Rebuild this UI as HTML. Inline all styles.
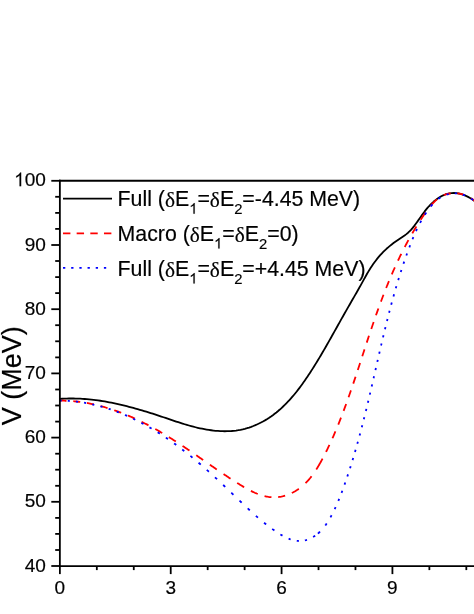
<!DOCTYPE html>
<html><head><meta charset="utf-8"><title>chart</title>
<style>
html,body{margin:0;padding:0;background:#fff;}
body{width:474px;height:614px;overflow:hidden;font-family:"Liberation Sans",sans-serif;}
svg{display:block;}
text{font-family:"Liberation Sans",sans-serif;fill:#000;stroke:#000;stroke-width:0.18px;}
.txt{filter:grayscale(1);}
.tk text{font-size:19px;}
.lg{font-size:21.3px;}
.sy{font-family:"Liberation Serif",serif;}
.sub{font-size:14.8px;}
.hid{fill:none;stroke:none;}
.ax line{stroke:#000;stroke-width:1.8;}
</style></head><body>
<svg width="474" height="614" viewBox="0 0 474 614">
<rect width="474" height="614" fill="#fff"/>
<g fill="none" stroke-width="1.8" stroke-linejoin="round">
<path d="M59.86 398.87L62.13 398.73L64.40 398.62L66.66 398.54L68.92 398.50L71.18 398.48L73.43 398.49L75.69 398.54L77.94 398.61L80.19 398.71L82.43 398.83L84.68 398.99L86.92 399.17L89.16 399.37L91.39 399.60L93.63 399.86L95.86 400.14L98.09 400.44L100.31 400.76L102.53 401.11L104.75 401.48L106.97 401.87L109.18 402.27L111.39 402.70L113.60 403.15L115.81 403.62L118.01 404.10L120.20 404.60L122.40 405.11L124.59 405.65L126.78 406.19L128.97 406.76L131.15 407.33L133.33 407.92L135.50 408.52L137.67 409.14L139.84 409.77L142.01 410.40L144.17 411.05L146.32 411.71L148.48 412.37L150.63 413.05L152.77 413.73L154.92 414.42L157.06 415.12L159.19 415.82L161.32 416.53L163.45 417.24L165.57 417.96L167.69 418.68L169.81 419.40L171.93 420.11L174.05 420.82L176.17 421.53L178.30 422.22L180.43 422.91L182.56 423.58L184.70 424.24L186.84 424.89L188.99 425.51L191.16 426.11L193.33 426.69L195.51 427.25L197.71 427.77L199.91 428.27L202.13 428.74L204.37 429.18L206.62 429.58L208.87 429.94L211.13 430.26L213.40 430.54L215.68 430.78L217.95 430.96L220.23 431.11L222.51 431.20L224.78 431.23L227.05 431.21L229.31 431.14L231.57 431.00L233.81 430.80L236.05 430.54L238.27 430.21L240.48 429.82L242.67 429.35L244.84 428.82L246.99 428.22L249.13 427.55L251.24 426.82L253.33 426.03L255.40 425.18L257.45 424.27L259.47 423.31L261.47 422.29L263.44 421.22L265.38 420.11L267.29 418.94L269.18 417.72L271.03 416.46L272.85 415.16L274.64 413.81L276.40 412.43L278.13 411.01L279.83 409.55L281.49 408.05L283.13 406.52L284.75 404.96L286.33 403.36L287.89 401.74L289.43 400.09L290.94 398.41L292.42 396.70L293.88 394.98L295.32 393.23L296.74 391.45L298.14 389.66L299.52 387.86L300.88 386.03L302.22 384.19L303.54 382.34L304.85 380.47L306.14 378.60L307.41 376.71L308.67 374.82L309.92 372.92L311.15 371.02L312.37 369.11L313.58 367.20L314.78 365.29L315.97 363.37L317.14 361.45L318.31 359.53L319.47 357.60L320.62 355.67L321.76 353.74L322.90 351.81L324.03 349.87L325.15 347.93L326.26 345.99L327.38 344.05L328.48 342.10L329.59 340.16L330.69 338.21L331.78 336.26L332.88 334.31L333.97 332.36L335.07 330.40L336.16 328.45L337.25 326.49L338.34 324.53L339.44 322.58L340.53 320.62L341.63 318.66L342.74 316.70L343.84 314.74L344.95 312.79L346.06 310.83L347.18 308.87L348.31 306.91L349.43 304.95L350.56 302.99L351.69 301.03L352.82 299.07L353.95 297.11L355.08 295.15L356.20 293.19L357.32 291.23L358.44 289.27L359.55 287.30L360.65 285.34L361.75 283.37L362.84 281.40L363.92 279.43L365.01 277.47L366.10 275.51L367.21 273.55L368.34 271.62L369.50 269.69L370.71 267.79L371.94 265.91L373.22 264.05L374.53 262.22L375.89 260.42L377.28 258.64L378.71 256.91L380.19 255.20L381.70 253.54L383.26 251.91L384.86 250.33L386.51 248.79L388.20 247.31L389.93 245.86L391.69 244.46L393.49 243.09L395.31 241.76L397.15 240.46L399.00 239.18L400.87 237.92L402.74 236.68L404.58 235.42L406.37 234.10L408.09 232.70L409.71 231.19L411.23 229.56L412.68 227.85L414.08 226.09L415.44 224.30L416.77 222.47L418.08 220.62L419.38 218.76L420.68 216.90L421.98 215.06L423.31 213.23L424.66 211.43L426.05 209.67L427.47 207.94L428.95 206.26L430.48 204.63L432.07 203.06L433.74 201.55L435.48 200.10L437.31 198.74L439.21 197.48L441.17 196.33L443.19 195.32L445.27 194.47L447.39 193.79L449.54 193.31L451.73 193.04L453.94 192.98L456.16 193.12L458.38 193.45L460.59 193.95L462.77 194.61L464.91 195.42L467.01 196.36L469.05 197.42L471.02 198.59L472.90 199.86L474.70 201.20L476.39 202.61L477.90 204.02" stroke="#000"/>
<path d="M59.99 400.71L61.04 400.70L62.09 400.70L63.14 400.71L64.18 400.72L65.23 400.75L66.28 400.78L66.49 400.78M73.30 401.20L74.35 401.29L75.39 401.39L76.44 401.50L77.48 401.62L78.53 401.74L79.57 401.87L80.20 401.95M86.96 403.01L88.00 403.20L89.04 403.40L90.08 403.60L91.11 403.81L92.15 404.03L93.18 404.25L93.91 404.41M100.60 406.05L101.63 406.33L102.65 406.61L103.68 406.90L104.70 407.19L105.72 407.49L106.74 407.80L107.55 408.05M114.24 410.23L115.25 410.58L116.26 410.94L117.26 411.30L118.27 411.67L119.27 412.04L120.27 412.42L121.17 412.76M127.91 415.49L128.89 415.91L129.88 416.33L130.86 416.76L131.83 417.19L132.81 417.62L133.79 418.06L134.76 418.50L134.85 418.55M141.60 421.77L142.55 422.24L143.50 422.72L144.45 423.20L145.40 423.68L146.35 424.17L147.29 424.66L148.23 425.16L148.51 425.30M155.29 429.01L156.21 429.53L157.12 430.05L158.03 430.57L158.95 431.10L159.86 431.63L160.76 432.16L161.67 432.70L162.21 433.02M168.93 437.11L169.81 437.67L170.70 438.22L171.59 438.78L172.47 439.34L173.35 439.91L174.23 440.47L175.11 441.04L175.82 441.49M182.55 445.92L183.42 446.50L184.29 447.08L185.16 447.67L186.02 448.25L186.89 448.84L187.76 449.43L188.62 450.02L189.49 450.61M196.24 455.24L197.10 455.84L197.97 456.44L198.83 457.04L199.70 457.64L200.56 458.24L201.43 458.84L202.29 459.44L203.16 460.04M209.85 464.68L210.72 465.28L211.60 465.89L212.47 466.49L213.35 467.09L214.22 467.70L215.10 468.30L215.98 468.90L216.77 469.44M223.59 474.07L224.48 474.67L225.37 475.26L226.27 475.86L227.17 476.46L228.07 477.05L228.97 477.64L229.87 478.24L230.51 478.65M237.18 482.95L238.10 483.53L239.03 484.11L239.96 484.69L240.89 485.26L241.82 485.82L242.76 486.39L243.70 486.94L244.17 487.22M250.91 490.89L251.87 491.36L252.83 491.82L253.79 492.27L254.76 492.71L255.73 493.12L256.70 493.53L257.67 493.91L257.77 493.95M264.55 496.10L265.55 496.33L266.54 496.54L267.54 496.73L268.54 496.89L269.54 497.02L270.55 497.14L271.45 497.21M278.16 497.10L279.18 496.96L280.21 496.80L281.24 496.61L282.26 496.39L283.29 496.14L284.31 495.86L285.13 495.62M291.83 492.97L292.79 492.49L293.75 491.98L294.70 491.46L295.63 490.91L296.55 490.35L297.46 489.77L298.35 489.17L298.79 488.86M305.51 483.20L306.25 482.46L306.98 481.70L307.70 480.93L308.40 480.14L309.09 479.35L309.77 478.54L310.44 477.73L311.10 476.90L311.55 476.32M316.28 469.53L316.84 468.63L317.40 467.72L317.96 466.81L318.50 465.90L319.04 464.97L319.57 464.05L320.10 463.12L320.62 462.19L321.14 461.26L321.65 460.32L322.16 459.38L322.56 458.63M326.02 451.93L326.49 450.98L326.96 450.03L327.43 449.08L327.89 448.13L328.35 447.18L328.80 446.22L329.25 445.27L329.39 444.98M332.46 438.26L332.89 437.29L333.32 436.33L333.74 435.36L334.16 434.39L334.58 433.42L334.99 432.45L335.40 431.48L335.45 431.39M338.27 424.56L338.67 423.59L339.06 422.61L339.46 421.63L339.85 420.65L340.23 419.66L340.62 418.68L341.00 417.70M343.61 410.89L343.98 409.90L344.35 408.91L344.71 407.92L345.08 406.93L345.45 405.93L345.81 404.94L346.13 404.05M348.56 397.28L348.91 396.28L349.26 395.28L349.61 394.28L349.96 393.28L350.31 392.28L350.65 391.28L350.96 390.38M353.25 383.66L353.59 382.66L353.93 381.65L354.26 380.65L354.60 379.64L354.94 378.64L355.27 377.63L355.57 376.72M357.80 369.98L358.13 368.97L358.46 367.96L358.79 366.95L359.12 365.94L359.45 364.94L359.78 363.93L360.07 363.02M362.27 356.26L362.60 355.25L362.93 354.24L363.26 353.23L363.59 352.22L363.91 351.21L364.24 350.20L364.51 349.40M366.72 342.64L367.05 341.63L367.38 340.62L367.71 339.62L368.04 338.61L368.38 337.60L368.71 336.59L369.01 335.69M371.27 328.95L371.61 327.95L371.95 326.94L372.29 325.94L372.63 324.93L372.98 323.93L373.32 322.93L373.63 322.03M375.96 315.32L376.31 314.32L376.67 313.33L377.02 312.33L377.38 311.33L377.73 310.33L378.09 309.34L378.41 308.44M380.89 301.69L381.26 300.70L381.63 299.71L382.00 298.72L382.38 297.73L382.75 296.74L383.13 295.75L383.51 294.77M386.16 287.98L386.55 287.00L386.94 286.02L387.34 285.04L387.74 284.06L388.14 283.09L388.54 282.11L388.94 281.14M391.81 274.34L392.23 273.37L392.65 272.40L393.07 271.44L393.50 270.47L393.92 269.51L394.35 268.55L394.78 267.59L394.87 267.39M397.96 260.70L398.41 259.75L398.86 258.80L399.32 257.85L399.77 256.90L400.23 255.95L400.70 255.00L401.16 254.06L401.30 253.78M404.74 247.02L405.23 246.08L405.72 245.15L406.21 244.22L406.71 243.29L407.21 242.36L407.71 241.44L408.22 240.51L408.42 240.14M412.27 233.34L412.80 232.43L413.34 231.52L413.88 230.61L414.42 229.70L414.97 228.79L415.52 227.88L416.07 226.98L416.41 226.44M420.71 219.69L421.30 218.80L421.89 217.91L422.49 217.02L423.10 216.13L423.70 215.24L424.32 214.35L424.93 213.46L425.43 212.75M430.49 206.03L431.17 205.21L431.86 204.41L432.57 203.62L433.28 202.85L434.01 202.10L434.75 201.37L435.50 200.66L436.26 199.98L436.96 199.38M443.74 195.15L444.66 194.77L445.61 194.44L446.57 194.14L447.55 193.88L448.55 193.67L449.56 193.49L450.58 193.35L450.68 193.33M457.41 193.36L458.47 193.50L459.53 193.67L460.59 193.89L461.64 194.14L462.69 194.42L463.73 194.74L464.35 194.95M471.03 198.19L471.94 198.80L472.83 199.44L473.70 200.11L474.54 200.82L475.35 201.56L476.13 202.33L476.88 203.13L477.61 203.97L477.75 204.14" stroke="#f00"/>
<path d="M59.89 400.61L61.09 400.62L61.69 400.63M67.75 400.85L68.93 400.93L69.76 400.98M75.89 401.55L77.06 401.68L77.99 401.80M84.05 402.69L85.21 402.89L86.14 403.06M92.25 404.29L93.39 404.55L94.31 404.76M100.45 406.33L101.59 406.64L102.49 406.90M108.67 408.80L109.78 409.17L110.68 409.47M116.77 411.66L117.87 412.08L118.86 412.47M124.97 414.98L126.05 415.45L127.13 415.92M133.14 418.70L134.21 419.21L135.27 419.73M141.39 422.86L142.43 423.42L143.47 423.98M149.47 427.35L150.50 427.94L151.52 428.54L151.63 428.61M157.70 432.31L158.71 432.95L159.71 433.58L159.81 433.65M165.85 437.62L166.83 438.29L167.81 438.96L168.01 439.09M174.10 443.40L175.06 444.09L176.01 444.79L176.20 444.93M182.25 449.48L183.19 450.20L184.12 450.93L184.31 451.07M190.41 455.93L191.32 456.68L192.24 457.43L192.51 457.65M198.58 462.73L199.47 463.50L200.37 464.27L200.73 464.58M206.77 469.86L207.65 470.65L208.53 471.43L208.88 471.75M214.99 477.30L215.86 478.10L216.72 478.89L217.07 479.22M223.17 484.93L224.03 485.73L224.88 486.54L225.22 486.87M231.34 492.71L232.19 493.53L233.03 494.34L233.45 494.75M239.52 500.61L240.37 501.42L241.21 502.23L241.64 502.64M247.68 508.37L248.54 509.17L249.41 509.97L249.75 510.29M255.88 515.81L256.77 516.59L257.66 517.36L257.93 517.59M264.06 522.70L264.99 523.45L265.93 524.19L266.12 524.34M272.19 528.92L273.17 529.63L274.17 530.34L274.37 530.48M280.38 534.43L281.42 535.05L282.47 535.65M288.62 538.64L289.69 539.06L290.67 539.40M296.76 540.85L297.85 540.96L298.84 541.02M304.90 540.49L306.00 540.20L306.99 539.90M313.14 537.01L314.17 536.36L315.19 535.67M317.92 533.57L318.84 532.76L319.73 531.94L320.08 531.60M325.31 525.52L326.01 524.55L326.68 523.57L326.75 523.47M330.44 517.37L331.01 516.33L331.58 515.29M334.66 509.16L335.17 508.09L335.62 507.12M338.32 500.96L338.77 499.87L339.18 498.89M341.54 492.85L341.96 491.75L342.33 490.75M344.53 484.65L344.92 483.54L345.27 482.53M347.33 476.51L347.70 475.39L348.03 474.39M350.03 468.22L350.39 467.10L350.67 466.20M352.56 460.13L352.90 459.00L353.21 457.99M355.01 451.89L355.34 450.76L355.60 449.85M357.34 443.73L357.66 442.60L357.91 441.69M359.59 435.55L359.90 434.41L360.14 433.50M361.76 427.34L362.06 426.20L362.29 425.29M363.84 419.23L364.13 418.08L364.35 417.17M365.89 410.98L366.17 409.83L366.39 408.91M367.86 402.83L368.13 401.68L368.35 400.76M369.79 394.66L370.06 393.51L370.27 392.59M371.69 386.48L371.96 385.33L372.17 384.41M373.58 378.30L373.84 377.15L374.05 376.22M375.45 370.11L375.71 368.95L375.92 368.03M377.32 361.92L377.58 360.76L377.79 359.84M379.20 353.73L379.46 352.57L379.67 351.65M381.09 345.54L381.36 344.39L381.58 343.47M383.02 337.37L383.29 336.22L383.51 335.30M384.98 329.21L385.26 328.06L385.48 327.14M386.98 321.06L387.27 319.91L387.50 319.00M389.08 312.82L389.37 311.68L389.61 310.76M391.21 304.72L391.51 303.58L391.79 302.55M393.44 296.52L393.76 295.39L394.05 294.37M395.77 288.36L396.10 287.23L396.40 286.22M398.22 280.12L398.57 279.00L398.85 278.10M400.79 271.92L401.15 270.80L401.44 269.91M403.48 263.77L403.86 262.65L404.20 261.65M406.33 255.55L406.73 254.44L407.05 253.55M409.34 247.38L409.76 246.28L410.13 245.29M412.51 239.27L412.96 238.18L413.37 237.20M416.06 231.04L416.55 229.97L417.01 229.01M420.09 222.86L420.65 221.82L421.22 220.77M424.83 214.69L425.48 213.68L426.14 212.67L426.21 212.57M430.65 206.50L431.42 205.57L432.21 204.66L432.44 204.40M438.39 198.88L439.32 198.20L440.28 197.56L440.47 197.44M446.57 194.59L447.67 194.26L448.68 194.01M454.78 193.34L455.95 193.37L456.89 193.43M462.91 194.65L464.04 195.04L465.05 195.43M471.13 198.65L472.13 199.33L473.10 200.04L473.20 200.11" stroke="#00f"/>
</g>
<g class="ax"><line x1="51.3" y1="566.0" x2="59.87" y2="566.0"/><line x1="55.2" y1="550.0" x2="59.87" y2="550.0"/><line x1="55.2" y1="533.9" x2="59.87" y2="533.9"/><line x1="55.2" y1="517.9" x2="59.87" y2="517.9"/><line x1="51.3" y1="501.8" x2="59.87" y2="501.8"/><line x1="55.2" y1="485.8" x2="59.87" y2="485.8"/><line x1="55.2" y1="469.7" x2="59.87" y2="469.7"/><line x1="55.2" y1="453.7" x2="59.87" y2="453.7"/><line x1="51.3" y1="437.6" x2="59.87" y2="437.6"/><line x1="55.2" y1="421.6" x2="59.87" y2="421.6"/><line x1="55.2" y1="405.5" x2="59.87" y2="405.5"/><line x1="55.2" y1="389.5" x2="59.87" y2="389.5"/><line x1="51.3" y1="373.4" x2="59.87" y2="373.4"/><line x1="55.2" y1="357.4" x2="59.87" y2="357.4"/><line x1="55.2" y1="341.3" x2="59.87" y2="341.3"/><line x1="55.2" y1="325.2" x2="59.87" y2="325.2"/><line x1="51.3" y1="309.2" x2="59.87" y2="309.2"/><line x1="55.2" y1="293.1" x2="59.87" y2="293.1"/><line x1="55.2" y1="277.1" x2="59.87" y2="277.1"/><line x1="55.2" y1="261.0" x2="59.87" y2="261.0"/><line x1="51.3" y1="245.0" x2="59.87" y2="245.0"/><line x1="55.2" y1="228.9" x2="59.87" y2="228.9"/><line x1="55.2" y1="212.9" x2="59.87" y2="212.9"/><line x1="55.2" y1="196.8" x2="59.87" y2="196.8"/><line x1="51.3" y1="180.8" x2="59.87" y2="180.8"/><line x1="59.87" y1="566.05" x2="59.87" y2="574.1"/><line x1="96.82" y1="566.05" x2="96.82" y2="570.1"/><line x1="133.77" y1="566.05" x2="133.77" y2="570.1"/><line x1="170.72" y1="566.05" x2="170.72" y2="574.1"/><line x1="207.67" y1="566.05" x2="207.67" y2="570.1"/><line x1="244.62" y1="566.05" x2="244.62" y2="570.1"/><line x1="281.57" y1="566.05" x2="281.57" y2="574.1"/><line x1="318.52" y1="566.05" x2="318.52" y2="570.1"/><line x1="355.47" y1="566.05" x2="355.47" y2="570.1"/><line x1="392.42" y1="566.05" x2="392.42" y2="574.1"/><line x1="429.37" y1="566.05" x2="429.37" y2="570.1"/><line x1="466.32" y1="566.05" x2="466.32" y2="570.1"/>
<line x1="59.87" y1="179.85" x2="59.87" y2="566.95"/>
<line x1="59" y1="180.75" x2="474" y2="180.75"/>
<line x1="59" y1="566.05" x2="474" y2="566.05"/>
</g>
<g stroke-width="1.7" fill="none">
<line x1="63" y1="198.6" x2="112" y2="198.6" stroke="#000"/>
<line x1="63" y1="233.3" x2="112" y2="233.3" stroke="#f00" stroke-dasharray="7.4 6.26"/>
<line x1="63" y1="267.8" x2="112" y2="267.8" stroke="#00f" stroke-dasharray="2.3 5.88"/>
</g>
<g class="txt"><g class="tk"><text x="45.8" y="571.5" text-anchor="end">40</text><text x="45.8" y="507.3" text-anchor="end">50</text><text x="45.8" y="443.1" text-anchor="end">60</text><text x="45.8" y="378.9" text-anchor="end">70</text><text x="45.8" y="314.7" text-anchor="end">80</text><text x="45.8" y="250.5" text-anchor="end">90</text><text x="45.8" y="186.3" text-anchor="end">00</text><path d="M763 0L583 0L583 1147Q518 1085 412 1023Q307 961 223 930L223 1104Q374 1175 487 1276Q600 1377 647 1472L763 1472Z" transform="translate(14.10,186.26) scale(0.00928,-0.00928)" fill="#000" stroke="#000" stroke-width="13"/><text x="59.9" y="594.4" text-anchor="middle">0</text><text x="170.7" y="594.4" text-anchor="middle">3</text><text x="281.6" y="594.4" text-anchor="middle">6</text><text x="392.4" y="594.4" text-anchor="middle">9</text></g>
<text x="117.6" y="206.1" class="lg">Full (<tspan class="sy" dy="0.8">δ</tspan><tspan dy="-0.8">E</tspan><tspan class="sub hid" dy="7.6">1</tspan><tspan dy="-7.6">=</tspan><tspan class="sy" dy="0.8">δ</tspan><tspan dy="-0.8">E</tspan><tspan class="sub" dy="7.6">2</tspan><tspan dy="-7.6">=-4.45 MeV)</tspan></text><path d="M763 0L583 0L583 1147Q518 1085 412 1023Q307 961 223 930L223 1104Q374 1175 487 1276Q600 1377 647 1472L763 1472Z" transform="translate(189.19,213.70) scale(0.00723,-0.00723)" fill="#000" stroke="#000" stroke-width="17"/>
<text x="117.6" y="241" class="lg">Macro (<tspan class="sy" dy="0.8">δ</tspan><tspan dy="-0.8">E</tspan><tspan class="sub hid" dy="7.6">1</tspan><tspan dy="-7.6">=</tspan><tspan class="sy" dy="0.8">δ</tspan><tspan dy="-0.8">E</tspan><tspan class="sub" dy="7.6">2</tspan><tspan dy="-7.6">=0)</tspan></text><path d="M763 0L583 0L583 1147Q518 1085 412 1023Q307 961 223 930L223 1104Q374 1175 487 1276Q600 1377 647 1472L763 1472Z" transform="translate(214.05,248.60) scale(0.00723,-0.00723)" fill="#000" stroke="#000" stroke-width="17"/>
<text x="117.6" y="276" class="lg">Full (<tspan class="sy" dy="0.8">δ</tspan><tspan dy="-0.8">E</tspan><tspan class="sub hid" dy="7.6">1</tspan><tspan dy="-7.6">=</tspan><tspan class="sy" dy="0.8">δ</tspan><tspan dy="-0.8">E</tspan><tspan class="sub" dy="7.6">2</tspan><tspan dy="-7.6">=+4.45 MeV)</tspan></text><path d="M763 0L583 0L583 1147Q518 1085 412 1023Q307 961 223 930L223 1104Q374 1175 487 1276Q600 1377 647 1472L763 1472Z" transform="translate(189.19,283.60) scale(0.00723,-0.00723)" fill="#000" stroke="#000" stroke-width="17"/>
<text transform="translate(21.4,425.2) rotate(-90)" font-size="27">V (MeV)</text></g>
</svg>
</body></html>
